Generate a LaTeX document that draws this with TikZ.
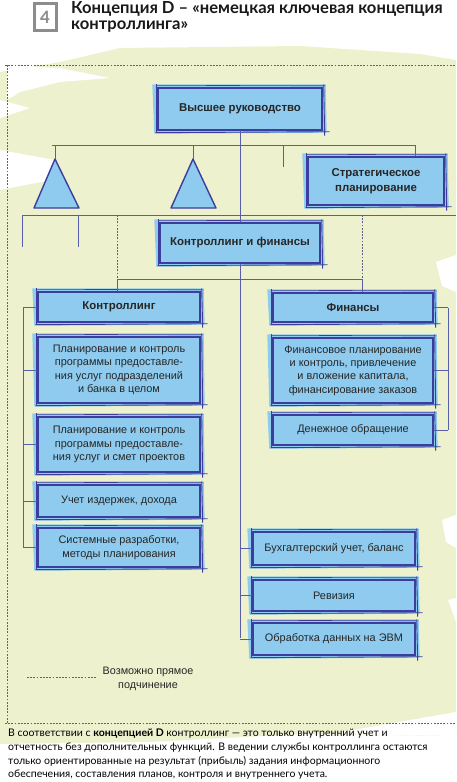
\documentclass[tikz,border=0pt]{standalone}
\usepackage{fontspec}
\setmainfont{Liberation Sans}
\newfontfamily\latofont{Lato}
\usetikzlibrary{backgrounds,calc}
\definecolor{bgreen}{HTML}{EEF1CD}
\definecolor{bfill}{HTML}{8ECBEE}
\definecolor{bord}{HTML}{3B3E9C}
\definecolor{conn}{HTML}{5A5DAA}
\definecolor{dashc}{HTML}{5A6090}
\definecolor{greyq}{HTML}{8C8C8C}
\begin{document}
\begin{tikzpicture}[x=1pt,y=-1pt,
  bx/.style={draw=bord, line width=1.4pt, fill=bfill, inner sep=1pt, align=center, font=\fontsize{10.9}{13.4}\selectfont, text=black!85},
  bxb/.style={bx, font=\fontsize{11.4}{14.5}\selectfont\bfseries},
  cn/.style={draw=conn, line width=0.7pt},
  dsh/.style={draw=dashc, line width=0.5pt, dash pattern=on 1.8pt off 1.4pt},
]
\useasboundingbox (0,0) rectangle (456,782);

% background
\begin{scope}[on background layer]
\fill[bgreen] (0,72) -- (60,62) -- (120,48) -- (300,46) -- (420,54) -- (456,60) -- (456,736) -- (300,734) -- (150,742) -- (0,744) -- cycle;
\fill[white] (7,66) -- (60,68) -- (110,78) -- (60,82) -- (20,92) -- (7,100) -- cycle;
\fill[white] (0,150) -- (55,160) -- (62,178) -- (0,190) -- cycle;
\fill[white] (0,100) -- (30,108) -- (0,118) -- cycle;
\fill[white] (436,262) -- (456,255) -- (456,292) -- (442,286) -- cycle;
\fill[white] (442,520) -- (456,515) -- (456,548) -- (446,542) -- cycle;
\fill[white] (448,600) -- (456,598) -- (456,622) -- cycle;
\fill[white] (330,734) -- (456,712) -- (456,736) -- cycle;
\end{scope}

% title
\node[draw=greyq, line width=3pt, minimum width=22pt, minimum height=27pt, fill=white, text=greyq, inner sep=0pt,
  font=\latofont\bfseries\fontsize{17}{17}\selectfont] (num) at (45,17) {4};
\node[anchor=north west, align=left, inner sep=0pt, text=black!90,
  font=\latofont\bfseries\fontsize{16.6}{16.5}\selectfont] (ttl) at (71,1)
  {Концепция D – «немецкая ключевая концепция\\контроллинга»};

% frame
\coordinate (fr1) at (5,65); \coordinate (fr2) at (456,65);
\coordinate (fr3) at (7,723); \coordinate (fr4) at (456,723);
\draw[dsh] (fr1) -- (fr2);
\draw[dsh] (fr1 -| fr3) -- (fr3);
\draw[dsh] (fr3 -| fr1) -- (fr4);

% boxes
\node[bxb, minimum width=164pt, minimum height=42pt] (top) at (240,109) {Высшее руководство};
\node[bxb, minimum width=136pt, minimum height=48pt] (strat) at (376,181) {Стратегическое\\планирование};
\node[bxb, minimum width=160pt, minimum height=40pt] (kf) at (240,243) {Контроллинг и финансы};
\node[bxb, minimum width=162pt, minimum height=30pt] (kon) at (119,307) {Контроллинг};
\node[bx, minimum width=162pt, minimum height=66pt] (k1) at (119,370) {Планирование и контроль\\программы предоставле-\\ния услуг подразделений\\и банка в целом};
\node[bx, minimum width=162pt, minimum height=55pt] (k2) at (119,444.5) {Планирование и контроль\\программы предоставле-\\ния услуг и смет проектов};
\node[bx, minimum width=162pt, minimum height=32pt] (k3) at (119,501) {Учет издержек, дохода};
\node[bx, minimum width=162pt, minimum height=39pt] (k4) at (119,547.5) {Системные разработки,\\методы планирования};
\node[bxb, minimum width=160pt, minimum height=29pt] (fin) at (353,307.5) {Финансы};
\node[bx, minimum width=160pt, minimum height=65pt] (f1) at (353,370.5) {Финансовое планирование\\и контроль, привлечение\\и вложение капитала,\\финансирование заказов};
\node[bx, minimum width=160pt, minimum height=30pt] (f2) at (353,430) {Денежное обращение};
\node[bx, minimum width=162pt, minimum height=33pt] (b1) at (334,548.5) {Бухгалтерский учет, баланс};
\node[bx, minimum width=162pt, minimum height=31pt] (b2) at (334,595.5) {Ревизия};
\node[bx, minimum width=162pt, minimum height=32pt] (b3) at (334,639) {Обработка данных на ЭВМ};

% sketchy strokes
\foreach \n in {top,strat,kf,kon,k1,k2,k3,k4,fin,f1,f2,b1,b2,b3}{
  \draw[bord, line width=0.9pt] ([shift={(-2,2)}]\n.south west) -- ([shift={(7,1)}]\n.south east);
  \draw[bord, line width=0.9pt] ([shift={(1,-3)}]\n.north east) -- ([shift={(2,5)}]\n.south east);
  \draw[bord, line width=0.6pt] ([shift={(-1,-2)}]\n.north west) -- ([shift={(3,-1.5)}]\n.north east);
  \draw[bord, line width=0.9pt] ([shift={(-1,-3)}]\n.north west) -- ([shift={(-1,1)}]\n.south west);
}
\begin{scope}[on background layer]
\foreach \n in {top,strat,kf,kon,k1,k2,k3,k4,fin,f1,f2,b1,b2,b3}{
  \fill[bfill] ([shift={(-5,-3)}]\n.north west) -- ([shift={(3,-3)}]\n.north east) -- ([shift={(4,2)}]\n.south east) -- ([shift={(-3,3)}]\n.south west) -- cycle;
}
\end{scope}

% triangles
\coordinate (t1) at (55,159);
\coordinate (t2) at (193,159);
\draw[bord, line width=1.4pt, fill=bfill, line join=round] (t1) -- (79,208) -- (34,208) -- cycle;
\draw[bord, line width=1.4pt, fill=bfill, line join=round] (t2) -- (216,208) -- (171,208) -- cycle;

% connectors
\draw[cn] (top.south) -- (kf.north);
\coordinate (h1L) at (52,145); \coordinate (h1R) at (415,145);
\draw[cn] (h1L) -- (h1R);
\draw[cn] (t1 |- h1L) -- (t1);
\draw[cn] (t2 |- h1L) -- (t2);
\coordinate (s1) at (283,167);
\draw[cn] (s1 |- h1L) -- (s1);
\draw[cn] (h1R) -- (h1R |- strat.north);

\coordinate (h2L) at (22,215); \coordinate (h2R) at (456,215);
\draw[cn] (h2L) -- (h2R);
\coordinate (d1) at (22,247); \coordinate (d2) at (78,247);
\draw[cn] (h2L) -- (d1);
\draw[cn] (d2 |- h2L) -- (d2);
\coordinate (j1) at (117,279); \coordinate (j2) at (362,279);
\draw[dsh] (j1 |- h2L) -- (j1);
\draw[dsh] (j2 |- h2L) -- (j2);
\draw[cn] (j1) -- (j2);
\draw[cn] (j1) -- (j1 |- kon.north);
\draw[cn] (j2) -- (j2 |- fin.north);

\coordinate (cb) at (240,638);
\draw[cn] (kf.south) -- (cb);
\draw[cn] (b1.west -| cb) -- (b1.west);
\draw[cn] (b2.west -| cb) -- (b2.west);
\draw[cn] (b3.west -| cb) -- (b3.west);

\coordinate (lb) at (23,0);
\draw[cn] (kon.west -| lb) -- (k4.west -| lb);
\foreach \n in {kon,k1,k2,k3,k4}{\draw[cn] (\n.west -| lb) -- (\n.west);}
\coordinate (rb) at (448,0);
\draw[cn] (fin.east -| rb) -- (f2.east -| rb);
\foreach \n in {fin,f1,f2}{\draw[cn] (\n.east -| rb) -- (\n.east);}

% legend
\coordinate (lg1) at (27,677); \coordinate (lg2) at (97,677);
\draw[dsh] (lg1) -- (lg2);
\node[align=center, font=\fontsize{10.8}{13.5}\selectfont, text=black!85] (lgt) at (148,679) {Возможно прямое\\подчинение};

% bottom text
\node[anchor=north west, align=left, inner sep=0pt, text=black,
  font=\latofont\fontsize{10.5}{13.6}\selectfont] (txt) at (8,729)
  {В соответствии с \textbf{концепцией D} контроллинг — это только внутренний учет и\\
   отчетность без дополнительных функций. В ведении службы контроллинга остаются\\
   только ориентированные на результат (прибыль) задания информационного\\
   обеспечения, составления планов, контроля и внутреннего учета.};
\end{tikzpicture}
\end{document}
